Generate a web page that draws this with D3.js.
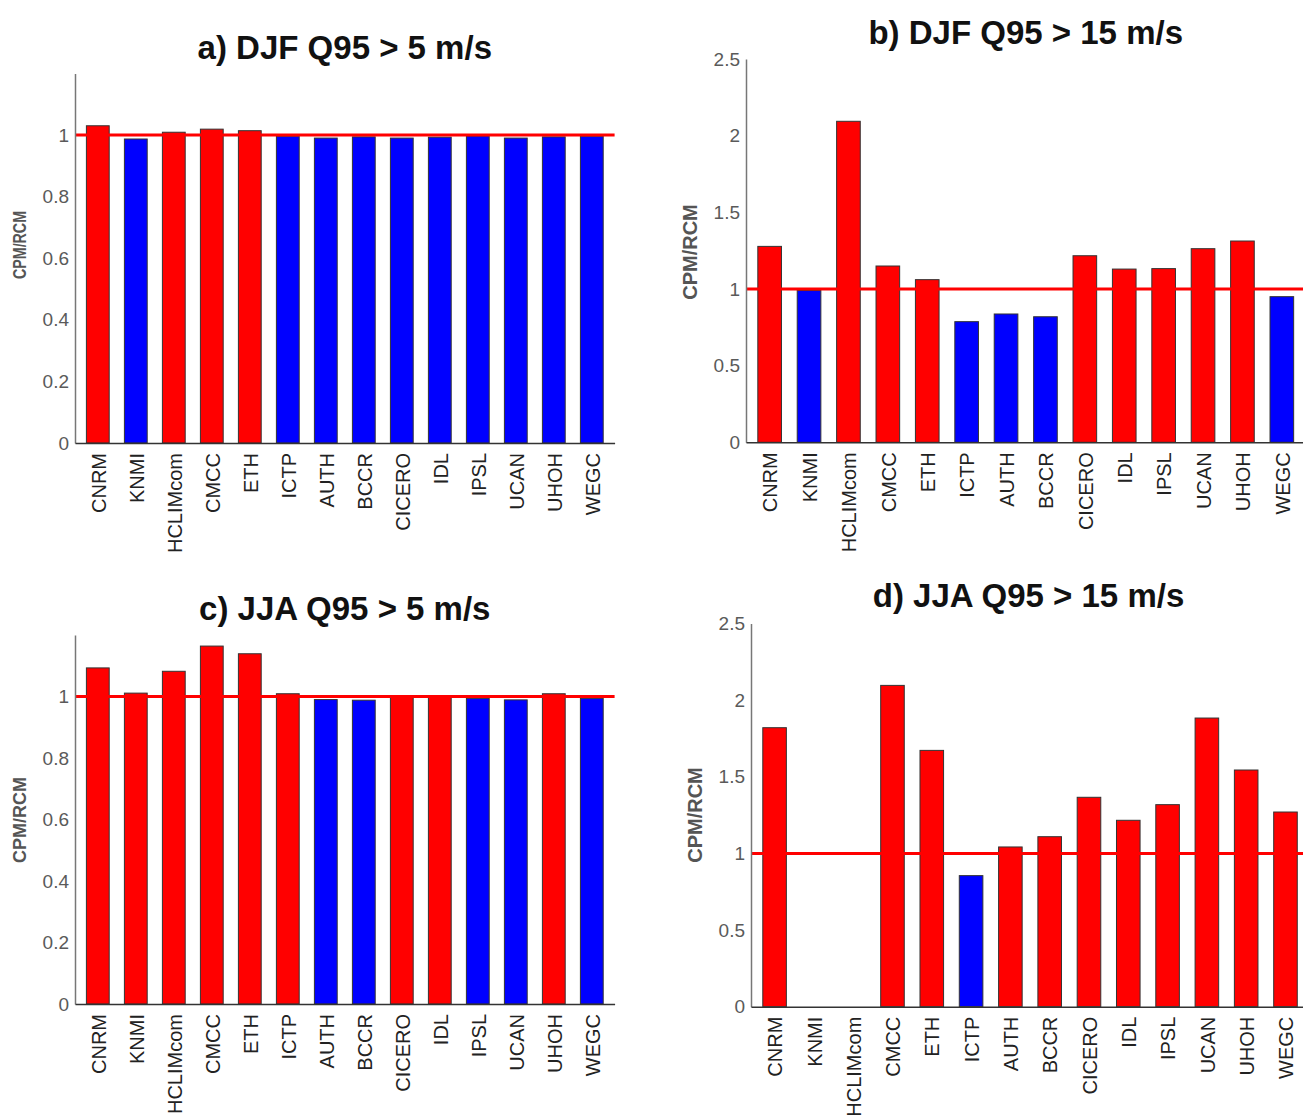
<!DOCTYPE html>
<html>
<head>
<meta charset="utf-8">
<script src="https://cdn.jsdelivr.net/npm/d3@7/dist/d3.min.js"></script>
<style>
  html, body { margin: 0; padding: 0; background: #fff; }
  svg { display: block; }
  text { font-family: "Liberation Sans", Arial, Helvetica, sans-serif; }
</style>
</head>
<body>
<svg id="chart" width="1303" height="1118"></svg>
<script>
// ---- data ----
const categories = ["CNRM","KNMI","HCLIMcom","CMCC","ETH","ICTP","AUTH","BCCR","CICERO","IDL","IPSL","UCAN","UHOH","WEGC"];
const djfQ95gt5  = [1.030,0.987,1.009,1.019,1.014,0.996,0.990,0.994,0.990,0.993,0.997,0.990,0.994,0.996];
const djfQ95gt15 = [1.278,0.990,2.094,1.150,1.061,0.787,0.837,0.819,1.217,1.130,1.133,1.263,1.313,0.950];
const jjaQ95gt5  = [1.093,1.011,1.082,1.164,1.139,1.009,0.990,0.988,1.002,1.002,0.994,0.989,1.009,0.994];
const jjaQ95gt15 = [1.820,null,null,2.096,1.672,0.855,1.042,1.109,1.366,1.216,1.318,1.883,1.544,1.270];
const titles = ["a) DJF Q95 > 5 m/s","b) DJF Q95 > 15 m/s","c) JJA Q95 > 5 m/s","d) JJA Q95 > 15 m/s"];
const yTicksSmall = [0,0.2,0.4,0.6,0.8,1];
const yTicksLarge = [0,0.5,1,1.5,2,2.5];
const yLabel = "CPM/RCM";
const refValue = 1;

// ---- layout ----
const panels = [
  {values: djfQ95gt5,  title: titles[0], x0: 75,  step: 38.0, y0: 443,    ppu: 308,   ymax: 1.2, ticks: yTicksSmall, titleY: 58.5, labX: 20,  labY: 245, labSize: 18, labLen: 68},
  {values: djfQ95gt15, title: titles[1], x0: 746, step: 39.4, y0: 442.3,  ppu: 153.3, ymax: 2.5, ticks: yTicksLarge, titleY: 43.5, labX: 690, labY: 252, labSize: 20, labLen: null},
  {values: jjaQ95gt5,  title: titles[2], x0: 75,  step: 38.0, y0: 1004,   ppu: 307.5, ymax: 1.2, ticks: yTicksSmall, titleY: 620,  labX: 20,  labY: 820, labSize: 18, labLen: null},
  {values: jjaQ95gt15, title: titles[3], x0: 751, step: 39.3, y0: 1006.7, ppu: 153.3, ymax: 2.5, ticks: yTicksLarge, titleY: 607,  labX: 695, labY: 815, labSize: 20, labLen: null}
];

const svg = d3.select("#chart");
svg.append("rect").attr("width",1303).attr("height",1118).attr("fill","#fff");

panels.forEach(p => {
  const x = d3.scaleLinear().domain([0.4, 14.6]).range([p.x0, p.x0 + 14.2*p.step]);
  const y = d3.scaleLinear().domain([0, p.ymax]).range([p.y0, p.y0 - p.ymax*p.ppu]);
  const g = svg.append("g");

  // bars
  const data = p.values.map((v,i) => ({v, i, name: categories[i]})).filter(d => d.v !== null);
  g.selectAll("rect.bar").data(data).enter().append("rect")
    .attr("class","bar")
    .attr("x", d => x(d.i + 1 - 0.3))
    .attr("width", d => x(d.i + 1 + 0.3) - x(d.i + 1 - 0.3))
    .attr("y", d => y(d.v))
    .attr("height", d => y(0) - y(d.v))
    .attr("fill", d => d.v >= refValue ? "#ff0000" : "#0000ff")
    .attr("stroke", "#333")
    .attr("stroke-width", 1);

  // reference line
  g.append("line")
    .attr("x1", x(0.4)).attr("x2", x(14.6))
    .attr("y1", y(refValue)).attr("y2", y(refValue))
    .attr("stroke", "#ff0000").attr("stroke-width", 3);

  // y axis
  const ya = g.append("g").attr("transform", `translate(${p.x0},0)`)
    .call(d3.axisLeft(y).tickValues(p.ticks).tickSize(0).tickPadding(6).tickFormat(d => String(d)));
  ya.select(".domain").attr("stroke", "#777").attr("stroke-width", 1.5);
  ya.selectAll("text").attr("fill", "#5a5a5a").style("font-size", "19px");

  // x axis
  const xa = g.append("g").attr("transform", `translate(0,${p.y0})`)
    .call(d3.axisBottom(x).tickValues(d3.range(1,15)).tickSize(0).tickFormat(d => categories[d-1]));
  xa.select(".domain").attr("stroke", "#333").attr("stroke-width", 1.5);
  xa.selectAll("text")
    .attr("fill", "#222")
    .style("font-size", "20px")
    .attr("transform", "rotate(-90)")
    .attr("text-anchor", "end")
    .attr("x", -10)
    .attr("y", 0)
    .attr("dy", "0.36em");

  // title
  g.append("text")
    .attr("x", (x(0.4) + Math.min(x(14.6),1303+3))/2)
    .attr("y", p.titleY)
    .attr("text-anchor","middle")
    .attr("fill","#111")
    .style("font-size","33px")
    .style("font-weight","bold")
    .text(p.title);

  // y label
  const lab = g.append("text")
    .attr("transform", `translate(${p.labX},${p.labY}) rotate(-90)`)
    .attr("text-anchor","middle")
    .attr("dy","0.36em")
    .attr("fill","#555")
    .style("font-size", p.labSize + "px")
    .style("font-weight","bold")
    .text(yLabel);
  if (p.labLen) lab.attr("textLength", p.labLen).attr("lengthAdjust", "spacingAndGlyphs");
});
</script>
</body>
</html>
